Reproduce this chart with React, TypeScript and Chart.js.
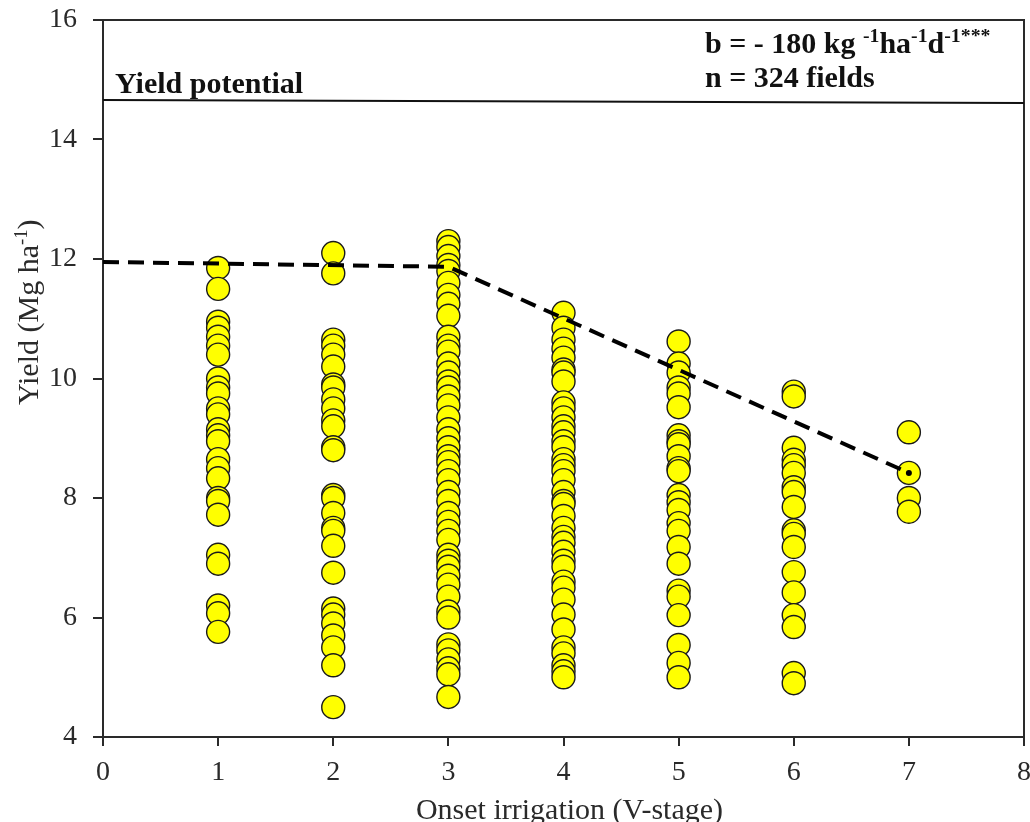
import React, { useEffect, useRef } from "react";
import { Chart, registerables } from "chart.js";

Chart.register(...registerables);

// ---- Data ----
const stages = [1, 2, 3, 4, 5, 6, 7];

const yieldV1 = [11.85, 11.5, 10.95, 10.85, 10.7, 10.55, 10.4, 10.0, 9.85, 9.75, 9.5, 9.4, 9.15, 9.05, 8.95, 8.65, 8.5, 8.33, 8.0, 7.95, 7.72, 7.05, 6.9, 6.2, 6.07, 5.76];
const yieldV2 = [12.1, 11.76, 10.65, 10.55, 10.4, 10.2, 9.9, 9.85, 9.65, 9.5, 9.3, 9.2, 8.85, 8.8, 8.05, 8.0, 7.75, 7.5, 7.45, 7.2, 6.75, 6.15, 6.05, 5.9, 5.7, 5.5, 5.2, 4.5];
const yieldV3 = [12.3, 12.2, 12.05, 11.9, 11.8, 11.6, 11.4, 11.25, 11.05, 10.7, 10.55, 10.45, 10.25, 10.1, 9.95, 9.85, 9.7, 9.55, 9.35, 9.15, 9.0, 8.85, 8.7, 8.6, 8.45, 8.3, 8.1, 7.95, 7.75, 7.6, 7.45, 7.3, 7.05, 6.95, 6.85, 6.7, 6.55, 6.35, 6.1, 6.0, 5.55, 5.45, 5.3, 5.15, 5.05, 4.67];
const yieldV4 = [11.1, 10.85, 10.65, 10.5, 10.35, 10.15, 10.1, 9.95, 9.6, 9.5, 9.35, 9.2, 9.1, 8.95, 8.85, 8.65, 8.55, 8.45, 8.3, 8.1, 7.95, 7.9, 7.7, 7.5, 7.35, 7.25, 7.1, 6.95, 6.85, 6.6, 6.5, 6.3, 6.05, 5.8, 5.5, 5.4, 5.2, 5.1, 5.0];
const yieldV5 = [10.62, 10.25, 10.1, 9.85, 9.75, 9.52, 9.05, 8.95, 8.9, 8.7, 8.5, 8.45, 8.05, 7.93, 7.8, 7.58, 7.45, 7.18, 6.9, 6.45, 6.35, 6.04, 5.54, 5.24, 5.0];
const yieldV6 = [9.78, 9.7, 8.84, 8.64, 8.55, 8.42, 8.18, 8.1, 7.85, 7.46, 7.4, 7.18, 6.76, 6.42, 6.04, 5.84, 5.07, 4.9];
const yieldV7 = [9.1, 8.42, 8.0, 7.77];

const yieldByStage = [yieldV1, yieldV2, yieldV3, yieldV4, yieldV5, yieldV6, yieldV7];

const trendStage = [0, 3, 7];
const trendYield = [11.95, 11.87, 8.42];

const potentialStage = [0, 8];
const potentialYield = [14.66, 14.61];

const xMin = 0, xMax = 8, xStep = 1;
const yMin = 4, yMax = 16, yStep = 2;

type Seg = { t: string; sup?: boolean };
const xTitle: Seg[] = [{ t: "Onset irrigation (V-stage)" }];
const yTitle: Seg[] = [{ t: "Yield (Mg ha" }, { t: "-1", sup: true }, { t: ")" }];
const slopeText: Seg[] = [
  { t: "b = - 180 kg " },
  { t: "-1", sup: true },
  { t: "ha" },
  { t: "-1", sup: true },
  { t: "d" },
  { t: "-1***", sup: true },
];
const countText: Seg[] = [{ t: "n = 324 fields" }];
const potentialLabel: Seg[] = [{ t: "Yield potential" }];

const FONT = '"Liberation Serif", "Times New Roman", serif';

function measureRich(ctx: CanvasRenderingContext2D, segs: Seg[], size: number, bold: boolean, supRatio: number) {
  let w = 0;
  for (const s of segs) {
    const fs = s.sup ? size * supRatio : size;
    ctx.font = `${bold ? "bold " : ""}${fs}px ${FONT}`;
    w += ctx.measureText(s.t).width;
  }
  return w;
}

function drawRich(ctx: CanvasRenderingContext2D, segs: Seg[], x: number, y: number, size: number, bold: boolean, supRatio = 0.64) {
  let cx = x;
  ctx.textBaseline = "alphabetic";
  ctx.textAlign = "left";
  for (const s of segs) {
    const fs = s.sup ? size * supRatio : size;
    ctx.font = `${bold ? "bold " : ""}${fs}px ${FONT}`;
    const dy = s.sup ? -size * 0.36 : 0;
    ctx.fillText(s.t, cx, y + dy);
    cx += ctx.measureText(s.t).width;
  }
}

const textPlugin = {
  id: "figureTexts",
  beforeDatasetsDraw(chart: any) {
    const { ctx, chartArea } = chart;
    ctx.save();
    ctx.strokeStyle = "#2a2a2a";
    ctx.lineWidth = 2;
    ctx.strokeRect(chartArea.left, chartArea.top, chartArea.right - chartArea.left, chartArea.bottom - chartArea.top);
    ctx.restore();
  },
  afterDraw(chart: any) {
    const { ctx } = chart;
    ctx.save();
    ctx.fillStyle = "#111";
    // annotations
    drawRich(ctx, slopeText, 705, 53, 30, true, 0.66);
    drawRich(ctx, countText, 705, 87, 30, true);
    drawRich(ctx, potentialLabel, 115, 93, 30, true);
    // x title
    ctx.fillStyle = "#2a2a2a";
    const w = measureRich(ctx, xTitle, 30, false, 0.64);
    const cx = (chart.chartArea.left + chart.chartArea.right) / 2 + 6;
    drawRich(ctx, xTitle, cx - w / 2, 819, 30, false);
    // y title
    ctx.translate(38, 405);
    ctx.rotate(-Math.PI / 2);
    drawRich(ctx, yTitle, 0, 0, 30, false, 0.62);
    ctx.restore();
  },
};

export default function App() {
  const ref = useRef<HTMLCanvasElement | null>(null);

  useEffect(() => {
    document.body.style.margin = "0";
    const canvas = ref.current!;
    const scatterData: { x: number; y: number }[] = [];
    stages.forEach((s, i) => {
      yieldByStage[i].forEach((v) => scatterData.push({ x: s, y: v }));
    });

    const chart = new Chart(canvas, {
      type: "scatter",
      data: {
        datasets: [
          {
            type: "line",
            label: "Yield potential",
            data: potentialStage.map((x, i) => ({ x, y: potentialYield[i] })),
            borderColor: "#111",
            borderWidth: 2,
            pointRadius: 0,
            order: 0,
          } as any,
          {
            type: "line",
            label: "Trend",
            data: trendStage.map((x, i) => ({ x, y: trendYield[i] })),
            borderColor: "#000",
            borderWidth: 4,
            borderDash: [16, 9],
            pointRadius: [0, 0, 3],
            pointBackgroundColor: "#000",
            pointBorderWidth: 0,
            order: 1,
          } as any,
          {
            label: "Fields",
            data: scatterData,
            backgroundColor: "#ffff00",
            borderColor: "#1a1a1a",
            borderWidth: 1.4,
            pointRadius: 11.5,
            order: 2,
          },
        ],
      },
      options: {
        animation: false,
        responsive: false,
        maintainAspectRatio: false,
        layout: { autoPadding: false, padding: { top: 20, right: 6, left: 0, bottom: 0 } },
        plugins: { legend: { display: false }, tooltip: { enabled: false } },
        scales: {
          x: {
            type: "linear",
            min: xMin,
            max: xMax,
            ticks: {
              stepSize: xStep,
              color: "#2a2a2a",
              font: { family: FONT, size: 28 },
              padding: 10,
              maxRotation: 0,
            },
            grid: { drawOnChartArea: false, tickLength: 9, color: "#2a2a2a", lineWidth: 2 },
            border: { display: true, color: "#2a2a2a", width: 2 },
            afterFit: (s: any) => {
              s.height = 85;
              s.paddingLeft = 0;
              s.paddingRight = 0;
            },
          },
          y: {
            type: "linear",
            min: yMin,
            max: yMax,
            ticks: {
              stepSize: yStep,
              color: "#2a2a2a",
              font: { family: FONT, size: 28 },
              padding: 16,
            },
            grid: { drawOnChartArea: false, tickLength: 10, color: "#2a2a2a", lineWidth: 2 },
            border: { display: true, color: "#2a2a2a", width: 2 },
            afterFit: (s: any) => {
              s.width = 103;
              s.paddingTop = 0;
              s.paddingBottom = 0;
            },
          },
        },
      },
      plugins: [textPlugin],
    });
    return () => chart.destroy();
  }, []);

  return (
    <div style={{ position: "absolute", left: 0, top: 0, width: 1030, height: 822, background: "#fff" }}>
      <canvas ref={ref} width={1030} height={822} style={{ width: 1030, height: 822, display: "block" }} />
    </div>
  );
}
